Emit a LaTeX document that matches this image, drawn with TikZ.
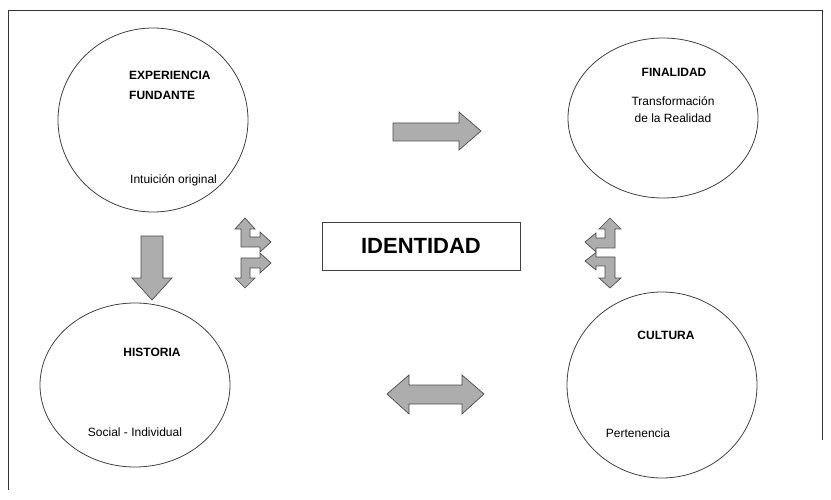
\documentclass[tikz,border=0pt]{standalone}
\usepackage{fontspec}
\setmainfont{Liberation Sans}
\begin{document}
\begin{tikzpicture}[x=1pt,y=-1pt,
  ell/.style={draw=black!75, line width=0.8pt},
  blk/.style={fill=black!32, draw=black!70, line width=0.7pt, line join=miter},
  ttl/.style={font=\bfseries\fontsize{12}{14}\selectfont, inner sep=0pt},
  sub/.style={font=\fontsize{12}{14}\selectfont, inner sep=0pt}]
\useasboundingbox (0,0) rectangle (831,500);
% frame
\draw[black!80, line width=0.8pt] (8,490) -- (8,10) -- (822,10) -- (822,440);
% ellipses
\draw[ell] (153,120) ellipse [x radius=95, y radius=92];
\draw[ell] (663,118) ellipse [x radius=95, y radius=80];
\draw[ell] (135,385) ellipse [x radius=95, y radius=82];
\draw[ell] (662,385) ellipse [x radius=95, y radius=93];
% texts
\node[ttl, anchor=west] (t1) at (129,75) {EXPERIENCIA};
\node[ttl, anchor=west] (t1b) at (129,95) {FUNDANTE};
\node[sub, anchor=west] (t1c) at (130,180) {Intuición original};
\node[ttl] (t2) at (674,72) {FINALIDAD};
\node[sub, align=center, font=\fontsize{12}{17}\selectfont] (t2b) at (673,110) {Transformación\\de la Realidad};
\node[ttl] (t3) at (152,352) {HISTORIA};
\node[sub] (t3b) at (135,432) {Social - Individual};
\node[ttl] (t4) at (666,335) {CULTURA};
\node[sub] (t4b) at (638,433) {Pertenencia};
% identidad box
\node[draw=black!75, line width=0.8pt, minimum width=198pt, minimum height=48pt,
      font=\bfseries\fontsize{22}{24}\selectfont] (id) at (421,246) {IDENTIDAD};
% right arrow
\draw[blk] (393,123) -- (459,123) -- (459,112) -- (481,131) -- (459,150) -- (459,141) -- (393,141) -- cycle;
% down arrow
\draw[blk] (141,236) -- (163,236) -- (163,278) -- (172,278) -- (152,300) -- (132,278) -- (141,278) -- cycle;
% double arrow
\draw[blk] (387,394) -- (409,375) -- (409,385) -- (462,385) -- (462,375) -- (484,394) -- (462,414) -- (462,404) -- (409,404) -- (409,414) -- cycle;
% left bent arrows
\draw[blk] (245,218) -- (255,229) -- (250,229) -- (250,237) -- (260,237) -- (260,232) -- (271,242) -- (260,252) -- (260,247) -- (241,247) -- (241,229) -- (235,229) -- cycle;
\draw[blk] (245,288) -- (255,278) -- (250,278) -- (250,268) -- (260,268) -- (260,273) -- (271,263) -- (260,253) -- (260,258) -- (241,258) -- (241,278) -- (235,278) -- cycle;
% right bent arrows
\draw[blk] (610,218) -- (621,229) -- (615,229) -- (615,248) -- (596,248) -- (596,252) -- (585,242) -- (596,233) -- (596,238) -- (605,238) -- (605,229) -- (599,229) -- cycle;
\draw[blk] (610,288) -- (621,278) -- (615,278) -- (615,257) -- (596,257) -- (596,252.5) -- (585,261) -- (596,270) -- (596,266) -- (605,266) -- (605,278) -- (599,278) -- cycle;
\end{tikzpicture}
\end{document}
